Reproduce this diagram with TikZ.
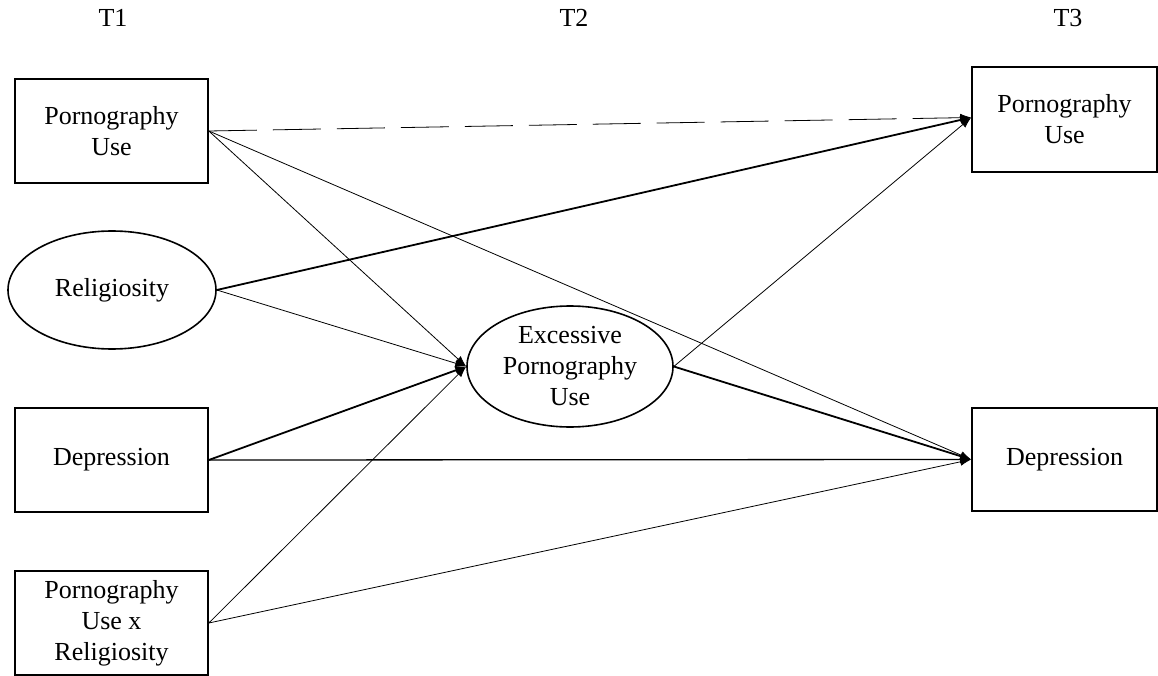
\documentclass[tikz,border=0pt]{standalone}
\usepackage{fontspec}
\setmainfont{Liberation Serif}
\usetikzlibrary{arrows.meta,shapes.geometric}

\tikzset{
  var/.style={draw,line width=1.6pt,minimum width=193pt,minimum height=104pt,
    align=center,inner sep=0pt},
  latent/.style={draw,ellipse,line width=1.6pt,align=center,inner sep=0pt},
  path/.style={-{Latex[length=11pt,width=8pt]},line width=0.8pt},
  strong/.style={path,line width=1.8pt},
  mid/.style={path,line width=1.3pt}
}

\begin{document}
\begin{tikzpicture}[x=1pt,y=-1pt,font=\fontsize{26}{31}\selectfont]
\useasboundingbox (0,0) rectangle (1158,676);

% Time points
\node (t1) at (113,18) {T1};
\node (t2) at (574,18) {T2};
\node (t3) at (1068,18) {T3};

% T1 variables
\node[var] (pu1) at (111.5,131) {Pornography\\Use};
\node[latent,minimum width=208pt,minimum height=118pt] (rel) at (112,290) {Religiosity};
\node[var] (dep1) at (111.5,460) {Depression};
\node[var] (int) at (111.5,623) {Pornography\\Use x\\Religiosity};

% T2 mediator
\node[latent,minimum width=206pt,minimum height=121pt] (epu) at (570,366.5) {Excessive\\Pornography\\Use};

% T3 outcomes
\node[var,minimum width=185pt,minimum height=105pt] (pu3) at (1064.5,119.5) {Pornography\\Use};
\node[var,minimum width=185pt,minimum height=103pt] (dep3) at (1064.5,459.5) {Depression};

% Paths into the mediator
\draw[path] (pu1.east) -- (epu.west);
\draw[path] (rel.east) -- (epu.west);
\draw[strong] (dep1.east) -- (epu.west);
\draw[path] (int.east) -- (epu.west);

% Paths into pornography use at T3
\draw[path,dash pattern=on 48pt off 16pt] (pu1.east) -- ([yshift=2pt]pu3.west);
\draw[strong] (rel.east) -- ([yshift=2pt]pu3.west);
\draw[path] (epu.east) -- ([yshift=2pt]pu3.west);

% Paths into depression at T3
\draw[path] (pu1.east) -- (dep3.west);
\draw[mid] (dep1.east) -- (dep3.west);
\draw[strong] (epu.east) -- (dep3.west);
\draw[path] (int.east) -- (dep3.west);
\end{tikzpicture}
\end{document}
